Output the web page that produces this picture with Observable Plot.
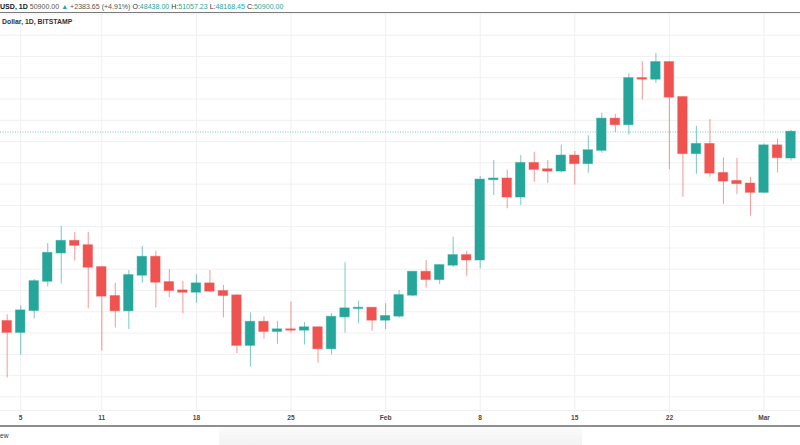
<!DOCTYPE html>
<html>
<head>
<meta charset="utf-8">
<script src="https://cdn.jsdelivr.net/npm/d3@7"></script>
<script src="https://cdn.jsdelivr.net/npm/@observablehq/plot@0.6"></script>
<style>
  html, body { margin: 0; padding: 0; background: #fff; }
  #wrap { position: relative; width: 800px; height: 445px; overflow: hidden; background: #fff; font-family: "Liberation Sans", Arial, sans-serif; }
  #chart { position: absolute; left: 0; top: 0; }
  #chart svg text { font-weight: bold; }
  .hdr { position: absolute; left: 0; top: 2px; font-size: 7.05px; line-height: 10px; white-space: nowrap; color: #333; }
  .hdr .v { color: #26a69a; }
  .hdr b { color: #131722; }
  #topline { position: absolute; left: 0; top: 12px; width: 800px; height: 1px; background: #7a7a7a; }
  #sub { position: absolute; left: 2px; top: 17px; font-size: 6.9px; line-height: 10px; font-weight: bold; color: #333; }
  #axisline { position: absolute; left: 0; top: 410px; width: 800px; height: 1px; background: #efefef; }
  #botline { position: absolute; left: 0; top: 425px; width: 800px; height: 2px; background: #8f8f8f; }
  #ew { position: absolute; left: 0; top: 431px; font-size: 6.6px; line-height: 10px; color: #333; }
  #shade { position: absolute; left: 219px; top: 427px; width: 363px; height: 18px; background: linear-gradient(to bottom, #fbfbfb, #f3f3f3); border-radius: 4px 4px 0 0; }
</style>
</head>
<body>
<div id="wrap">
  <div id="chart"></div>
  <div class="hdr"><b>USD, 1D</b> <span style="color:#555">50900.00</span> <span class="v">▲</span> <span style="color:#555">+2383.65 (+4.91%)</span> O:<span class="v">48438.00</span> H:<span class="v">51057.23</span> L:<span class="v">48168.45</span> C:<span class="v">50900.00</span></div>
  <div id="topline"></div>
  <div id="sub">Dollar, 1D, BITSTAMP</div>
  <div id="axisline"></div>
  <div id="botline"></div>
  <div id="shade"></div>
  <div id="ew">ew</div>
</div>
<script>
const dates = ["2021-01-04","2021-01-05","2021-01-06","2021-01-07","2021-01-08","2021-01-09","2021-01-10","2021-01-11","2021-01-12","2021-01-13","2021-01-14","2021-01-15","2021-01-16","2021-01-17","2021-01-18","2021-01-19","2021-01-20","2021-01-21","2021-01-22","2021-01-23","2021-01-24","2021-01-25","2021-01-26","2021-01-27","2021-01-28","2021-01-29","2021-01-30","2021-01-31","2021-02-01","2021-02-02","2021-02-03","2021-02-04","2021-02-05","2021-02-06","2021-02-07","2021-02-08","2021-02-09","2021-02-10","2021-02-11","2021-02-12","2021-02-13","2021-02-14","2021-02-15","2021-02-16","2021-02-17","2021-02-18","2021-02-19","2021-02-20","2021-02-21","2021-02-22","2021-02-23","2021-02-24","2021-02-25","2021-02-26","2021-02-27","2021-02-28","2021-03-01","2021-03-02","2021-03-03"];
const open  = [33100,32040,34100,36850,39510,40640,40230,38170,35450,34070,37420,39140,36760,35980,35820,36640,35920,35510,30820,33030,32130,32320,32250,32510,30500,33500,34290,34350,33190,33570,35540,37730,37010,38360,39300,38850,46400,46500,44770,47960,47370,47210,48660,47910,49160,52130,51570,55940,55850,57450,54160,48850,49750,47020,46270,46030,45210,49620,48438];
const high  = [33730,34570,37040,40420,42050,41450,41450,38250,36670,37890,40140,39700,37950,36850,37480,37890,36480,35600,33880,33500,33100,34910,32980,32560,33820,38610,34980,34400,34760,36000,37750,38830,38400,41010,39700,46710,48220,47340,48690,49000,48220,49690,49060,50560,52660,52540,56390,57510,58290,57500,54200,51440,52070,48470,48400,46650,49780,50250,51057];
const low   = [27770,29900,33350,36320,36640,38760,34290,30310,32470,32320,36690,34350,35350,33820,34790,35800,33410,30070,28810,31410,30940,31970,30870,29150,29930,32000,32880,32160,32320,33400,35400,36230,36570,38170,37350,38010,44930,43680,43990,46180,46080,47050,45930,47020,48900,50850,50630,53920,55470,47370,44770,46930,46650,44110,45020,42990,45150,47060,48168];
const close = [32040,34100,36850,39510,40640,40230,38170,35450,34070,37420,39140,36760,35980,35820,36640,35920,35510,30820,33030,32130,32320,32250,32510,30500,33500,34290,34350,33190,33570,35540,37730,37010,38360,39300,38850,46400,46500,44770,47960,47370,47210,48660,47910,49160,52130,51570,55940,55850,57450,54160,48850,49750,47020,46270,46030,45210,49620,48470,50900];
const tickDates  = ["2021-01-05","2021-01-11","2021-01-18","2021-01-25","2021-02-01","2021-02-08","2021-02-15","2021-02-22","2021-03-01"];
const tickLabels = ["5","11","18","25","Feb","8","15","22","Mar"];
const priceGrid  = [26000,28000,30000,32000,34000,36000,38000,40000,42000,44000,46000,48000,50000,52000,54000,56000,58000,60000,62000];

const UP = "#26a69a", DOWN = "#ef5350";
const DAY = 864e5;
const data = dates.map((d, i) => ({date: new Date(d + "T00:00Z"), open: open[i], high: high[i], low: low[i], close: close[i]}));
const colorOf = d => d.close >= d.open ? UP : DOWN;
const ticks = tickDates.map(d => new Date(d + "T00:00Z"));
const labelMap = new Map(ticks.map((t, i) => [+t, tickLabels[i]]));

const first = +ticks[0], last = +ticks[ticks.length - 1];
const xDomain = [new Date(first - 1.4947 * DAY), new Date(last + 2.7008 * DAY)];

const chart = Plot.plot({
  width: 800,
  height: 425,
  marginTop: 13,
  marginBottom: 15,
  marginLeft: 0,
  marginRight: 0,
  style: {fontSize: "6.6px", fontFamily: "Liberation Sans, Arial, sans-serif", color: "#4a4a4a", background: "transparent"},
  x: {type: "utc", domain: xDomain, range: [0, 800]},
  y: {domain: [24715, 62045], range: [410, 13], axis: null},
  color: {type: "identity"},
  marks: [
    Plot.ruleY(priceGrid, {stroke: "#f0f0f0", strokeWidth: 1}),
    Plot.ruleX(ticks, {stroke: "#f0f0f0", strokeWidth: 1}),
    Plot.axisX(ticks, {tickFormat: d => labelMap.get(+d), tickSize: 2, tickPadding: 3, stroke: "#eaeaea", label: null}),
    Plot.ruleY([close[close.length - 1]], {stroke: UP, strokeOpacity: 0.6, strokeDasharray: "1,1.5", strokeWidth: 1}),
    Plot.ruleX(data, {x: "date", y1: "low", y2: "high", stroke: colorOf, strokeOpacity: 0.55, strokeWidth: 1.1}),
    Plot.rect(data, {
      x1: d => new Date(+d.date - 0.35 * DAY),
      x2: d => new Date(+d.date + 0.35 * DAY),
      y1: "open", y2: "close",
      fill: colorOf, stroke: colorOf, strokeOpacity: 0.45, strokeWidth: 1,
      insetTop: -0.3, insetBottom: -0.3
    })
  ]
});
document.getElementById("chart").appendChild(chart);
</script>
</body>
</html>
